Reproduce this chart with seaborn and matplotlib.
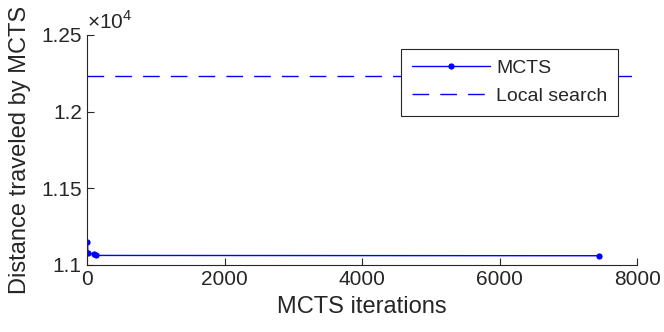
import matplotlib
matplotlib.use("Agg")
import matplotlib.pyplot as plt
import matplotlib.ticker as mticker
import seaborn as sns
import pandas as pd

# values
mcts_iterations = [1, 10, 100, 120, 7450]
mcts_distance = [11150, 11075, 11072, 11062, 11060]
local_search_distance = [12233]

y_ticks = [11000, 11500, 12000, 12500]
x_ticks = [0, 2000, 4000, 6000, 8000]

sns.set_theme(style="white")
plt.rcParams["font.family"] = ["Liberation Sans", "DejaVu Sans"]
plt.rcParams["mathtext.fontset"] = "custom"
plt.rcParams["mathtext.rm"] = "Liberation Sans"

axis_col = "#262626"
blue = "#0000ff"

fig = plt.figure(figsize=(6.64, 3.32), dpi=100)
ax = fig.add_axes([0.1315, 0.202, 0.828, 0.693])

df = pd.DataFrame({"iter": mcts_iterations, "dist": mcts_distance})
sns.lineplot(data=df, x="iter", y="dist", ax=ax, color=blue, lw=1.0,
             marker="o", markersize=4.5, markeredgewidth=0, label="MCTS")
ax.axhline(local_search_distance[0], color=blue, lw=1.0, dashes=(12, 8),
           label="Local search")

ax.set_xlim(0, 8000)
ax.set_ylim(11000, 12500)
ax.xaxis.set_major_locator(mticker.FixedLocator(x_ticks))
ax.yaxis.set_major_locator(mticker.FixedLocator(y_ticks))
ax.yaxis.set_major_formatter(mticker.FuncFormatter(lambda v, p: f"{v / 1e4:g}"))

for s in ["top", "right"]:
    ax.spines[s].set_visible(False)
for s in ["left", "bottom"]:
    ax.spines[s].set_color(axis_col)
    ax.spines[s].set_linewidth(0.8)
ax.tick_params(bottom=True, left=True, direction="in", length=5, width=0.8,
               color=axis_col, labelcolor=axis_col, labelsize=15, pad=4)

ax.set_xlabel("MCTS iterations", fontsize=17, color=axis_col, labelpad=5)
ax.set_ylabel("Distance traveled by MCTS", fontsize=17, color=axis_col, labelpad=7)
ax.text(0.0, 1.01, r"$\times10^4$", transform=ax.transAxes, fontsize=15,
        color=axis_col, ha="left", va="bottom")

leg = ax.legend(loc="upper right", bbox_to_anchor=(0.966, 0.94), fontsize=14,
                frameon=True, fancybox=False, framealpha=1, handlelength=4.0,
                borderpad=0.55, labelspacing=0.55, handletextpad=0.35,
                borderaxespad=0)
leg.get_frame().set_edgecolor(axis_col)
leg.get_frame().set_linewidth(0.8)

fig.savefig("out.png", dpi=100)
